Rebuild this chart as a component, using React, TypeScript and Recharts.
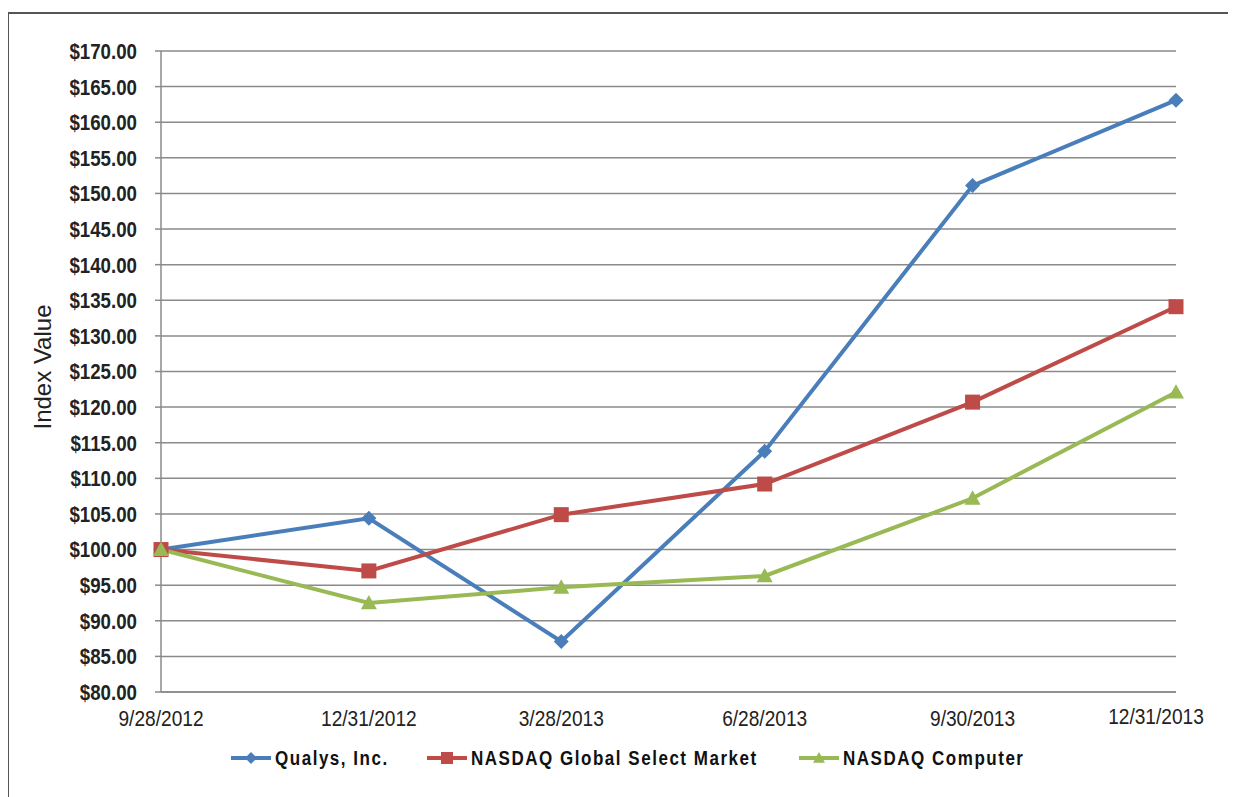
import React from "react";
import { LineChart, Line, XAxis, YAxis, CartesianGrid } from "recharts";

const dateLabels = ["9/28/2012", "12/31/2012", "3/28/2013", "6/28/2013", "9/30/2013", "12/31/2013"];
const qualys = [100.0, 104.4, 87.1, 113.8, 151.1, 163.1];
const nasdaqGlobal = [100.0, 97.0, 104.9, 109.2, 120.7, 134.1];
const nasdaqComputer = [100.0, 92.5, 94.7, 96.3, 107.2, 122.1];
const yTicks = [80, 85, 90, 95, 100, 105, 110, 115, 120, 125, 130, 135, 140, 145, 150, 155, 160, 165, 170];

const seriesNames = ["Qualys, Inc.", "NASDAQ Global Select Market", "NASDAQ Computer"];
const BLUE = "#4A7EBB";
const RED = "#BE4B48";
const GREEN = "#98B954";

const toTime = (s: string) => {
  const [m, d, y] = s.split("/").map(Number);
  return Date.UTC(y, m - 1, d);
};

const xTicks = dateLabels.map(toTime);
const data = dateLabels.map((lab, i) => ({
  t: toTime(lab),
  label: lab,
  qualys: qualys[i],
  global: nasdaqGlobal[i],
  computer: nasdaqComputer[i],
}));

const FONT = "'Liberation Sans', Arial, sans-serif";
const SQUEEZE = 0.85;

const Diamond = ({ cx, cy, fill, s = 7 }: any) => (
  <path d={`M${cx},${cy - s} L${cx + s},${cy} L${cx},${cy + s} L${cx - s},${cy} Z`} fill={fill} />
);
const Square = ({ cx, cy, fill, s = 7 }: any) => (
  <rect x={cx - s} y={cy - s} width={2 * s} height={2 * s} fill={fill} />
);
const Triangle = ({ cx, cy, fill, s = 7 }: any) => (
  <path d={`M${cx},${cy - s} L${cx + s},${cy + s * 0.8} L${cx - s},${cy + s * 0.8} Z`} fill={fill} />
);

const XTick = (props: any) => {
  const { x, y, payload, index } = props;
  const last = index === dateLabels.length - 1;
  const label = dateLabels[xTicks.indexOf(payload.value)] ?? "";
  return (
    <g transform={`translate(${last ? x - 20 : x},${last ? y - 2 : y}) scale(${SQUEEZE},1)`}>
      <text x={0} y={0} dy="0.8em" textAnchor="middle" fill="#222" fontFamily={FONT} fontSize={22.5}>
        {label}
      </text>
    </g>
  );
};

const YTick = (props: any) => {
  const { x, y, payload } = props;
  return (
    <g transform={`translate(${x},${y}) scale(${SQUEEZE},1)`}>
      <text x={0} y={0} dy="0.36em" textAnchor="end" fill="#222" fontFamily={FONT} fontSize={22} fontWeight="bold">
        {`$${Number(payload.value).toFixed(2)}`}
      </text>
    </g>
  );
};

const legendX = [223, 419, 791];

const Legend = () => (
  <svg width={1228} height={40} style={{ position: "absolute", left: 0, top: 730 }}>
    {seriesNames.map((name, i) => {
      const color = [BLUE, RED, GREEN][i];
      const Shape = [Diamond, Square, Triangle][i];
      const x0 = legendX[i];
      return (
        <g key={name}>
          <line x1={x0} y1={20} x2={x0 + 40} y2={20} stroke={color} strokeWidth={4} />
          <Shape cx={x0 + 20} cy={20} fill={color} s={6} />
          <g transform={`translate(${x0 + 44},20) scale(${SQUEEZE},1)`}>
            <text
              x={0}
              y={0}
              dy="0.36em"
              fill="#111"
              fontFamily={FONT}
              fontSize={20}
              fontWeight="bold"
              letterSpacing={1.8}
            >
              {name}
            </text>
          </g>
        </g>
      );
    })}
  </svg>
);

export default function App() {
  return (
    <div style={{ position: "relative", width: 1228, height: 789, overflow: "hidden", background: "#fff" }}>
      <div
        style={{
          position: "absolute",
          left: -1,
          top: 4,
          width: 1400,
          height: 900,
          border: "2px solid #555",
          boxSizing: "border-box",
        }}
      />
      <div
        style={{
          position: "absolute",
          left: 35,
          top: 359,
          transform: "translate(-50%, -50%) rotate(-90deg)",
          fontFamily: FONT,
          fontSize: 24,
          color: "#222",
          whiteSpace: "nowrap",
        }}
      >
        Index Value
      </div>
      <div style={{ position: "absolute", left: 0, top: 0 }}>
        <LineChart width={1228} height={789} data={data} margin={{ top: 43, right: 60, bottom: 65, left: 0 }}>
          <CartesianGrid horizontal vertical={false} stroke="#8a8a8a" strokeWidth={1.5} />
          <XAxis
            dataKey="t"
            type="number"
            scale="time"
            domain={[xTicks[0], xTicks[xTicks.length - 1]]}
            ticks={xTicks}
            tick={<XTick />}
            tickLine={false}
            tickSize={0}
            tickMargin={16}
            axisLine={{ stroke: "#8a8a8a", strokeWidth: 1.5 }}
            height={40}
            interval={0}
          />
          <YAxis
            domain={[80, 170]}
            ticks={yTicks}
            width={153}
            interval={0}
            tick={<YTick />}
            tickLine={{ stroke: "#8a8a8a", strokeWidth: 1.5 }}
            tickSize={6}
            tickMargin={18}
            axisLine={{ stroke: "#8a8a8a", strokeWidth: 1.5 }}
          />
          <Line
            dataKey="qualys"
            name={seriesNames[0]}
            stroke={BLUE}
            strokeWidth={4}
            isAnimationActive={false}
            dot={(p: any) => <Diamond key={`q${p.index}`} cx={p.cx} cy={p.cy} fill={BLUE} s={7.5} />}
          />
          <Line
            dataKey="global"
            name={seriesNames[1]}
            stroke={RED}
            strokeWidth={4}
            isAnimationActive={false}
            dot={(p: any) => <Square key={`g${p.index}`} cx={p.cx} cy={p.cy} fill={RED} s={7.5} />}
          />
          <Line
            dataKey="computer"
            name={seriesNames[2]}
            stroke={GREEN}
            strokeWidth={4}
            isAnimationActive={false}
            dot={(p: any) => <Triangle key={`c${p.index}`} cx={p.cx} cy={p.cy} fill={GREEN} s={8} />}
          />
        </LineChart>
      </div>
      <Legend />
    </div>
  );
}
